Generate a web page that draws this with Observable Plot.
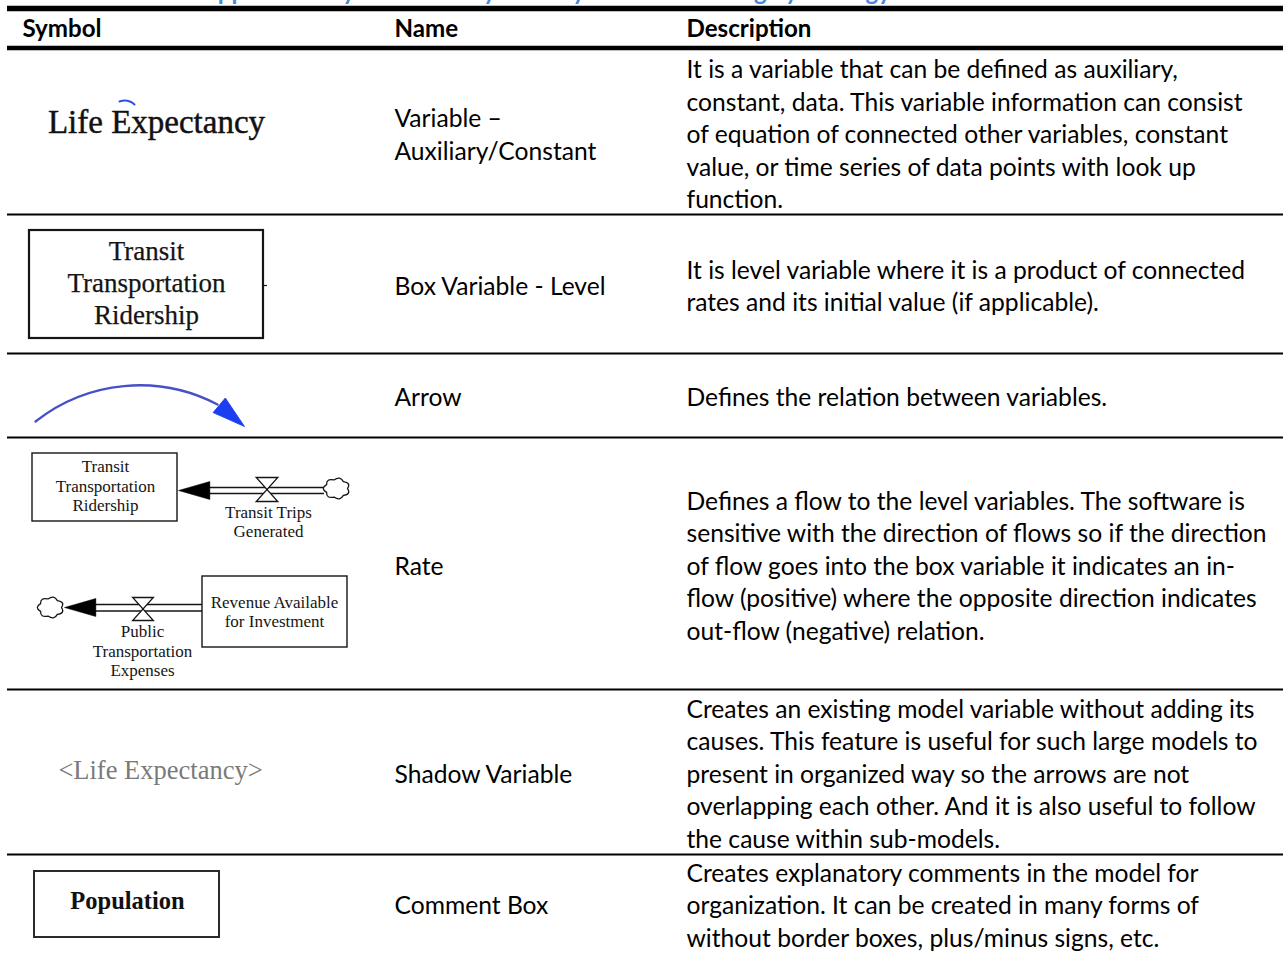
<!DOCTYPE html>
<html>
<head>
<meta charset="utf-8">
<script src="https://cdn.jsdelivr.net/npm/d3@7"></script>
<script src="https://cdn.jsdelivr.net/npm/@observablehq/plot@0.6"></script>
<style>
  html, body { margin: 0; padding: 0; background: #fff; }
  #chart svg { display: block; }
</style>
</head>
<body>
<div id="chart"></div>
<script>
// ---------------- data (table content) ----------------
const tableTitle = "Table 2: Vensim Application Symbols and System Dynamics Modeling Symbology";
const headers = ["Symbol", "Name", "Description"];
const names = [
  ["Variable –", "Auxiliary/Constant"],
  ["Box Variable - Level"],
  ["Arrow"],
  ["Rate"],
  ["Shadow Variable"],
  ["Comment Box"]
];
const descriptions = [
  ["It is a variable that can be defined as auxiliary,",
   "constant, data. This variable information can consist",
   "of equation of connected other variables, constant",
   "value, or time series of data points with look up",
   "function."],
  ["It is level variable where it is a product of connected",
   "rates and its initial value (if applicable)."],
  ["Defines the relation between variables."],
  ["Defines a flow to the level variables. The software is",
   "sensitive with the direction of flows so if the direction",
   "of flow goes into the box variable it indicates an in-",
   "flow (positive) where the opposite direction indicates",
   "out-flow (negative) relation."],
  ["Creates an existing model variable without adding its",
   "causes. This feature is useful for such large models to",
   "present in organized way so the arrows are not",
   "overlapping each other. And it is also useful to follow",
   "the cause within sub-models."],
  ["Creates explanatory comments in the model for",
   "organization. It can be created in many forms of",
   "without border boxes, plus/minus signs, etc."]
];
const auxiliaryLabel = "Life Expectancy";
const levelLabel = ["Transit", "Transportation", "Ridership"];
const inflowStockLabel = ["Transit", "Transportation", "Ridership"];
const inflowRateLabel = ["Transit Trips", "Generated"];
const outflowStockLabel = ["Revenue Available", "for Investment"];
const outflowRateLabel = ["Public", "Transportation", "Expenses"];
const shadowLabel = "<Life Expectancy>";
const commentLabel = "Population";

// ---------------- layout ----------------
const W = 1286, H = 953;
const tableLeft = 7, tableRight = 1283;
const colX = [22, 394, 686];
const headerY = 29;
const rowEdges = [48, 214, 353, 437, 689, 854];
const rowTextY = [132.5, 284, 395.5, 564, 772, 903.5];
const SANS = "Lato, 'Open Sans', sans-serif";
const SERIF = "'Liberation Serif', 'DejaVu Serif', serif";

const ctx2d = document.createElement("canvas").getContext("2d");
function measure(text, weight, family) {
  ctx2d.font = `${weight} 100px ${family}`;
  return ctx2d.measureText(text).width / 100;
}
const bodySize = 582 / measure(descriptions[3][1], "normal", SANS);
const headSize = 125 / measure(headers[2], "bold", SANS);
const bodyLH = 32.5 / bodySize;
const titleX = 219 - headSize * measure("Table 2: Vensim A", "bold", SANS);

// ---------------- custom symbols ----------------
const headSymbol = { draw(p, size) {
  const r = Math.sqrt(size / Math.PI);
  p.moveTo(0, 0); p.lineTo(-3.3 * r, -0.95 * r); p.lineTo(-3.3 * r, 0.95 * r); p.closePath();
}};
const valveSymbol = { draw(p, size) {
  const r = Math.sqrt(size / Math.PI), w = 0.9 * r;
  p.moveTo(-w, -r); p.lineTo(w, -r); p.lineTo(-w, r); p.lineTo(w, r); p.closePath();
}};
const cloudSymbol = { draw(p, size) {
  const r = Math.sqrt(size / Math.PI), rx = r, ry = 0.8 * r, k = 7;
  const pt = (a, f) => [f * rx * Math.cos(a), f * ry * Math.sin(a)];
  const s = pt(0, 1); p.moveTo(s[0], s[1]);
  for (let i = 0; i < k; i++) {
    const a0 = 2 * Math.PI * i / k, a1 = 2 * Math.PI * (i + 1) / k;
    const c = pt((a0 + a1) / 2, 1.5), e = pt(a1, 1);
    p.quadraticCurveTo(c[0], c[1], e[0], e[1]);
  }
  p.closePath();
}};

const rows = names.map((n, i) => ({ name: n.join("\n"), desc: descriptions[i].join("\n"), y: rowTextY[i] }));
const one = [0];
const ink = "#151515";

const chart = Plot.plot({
  width: W, height: H, margin: 0,
  x: { domain: [0, W], range: [0, W], axis: null },
  y: { domain: [0, H], range: [0, H], axis: null },
  style: { background: "white" },
  marks: [
    // caption (cut off at the top of the picture, as in the source)
    Plot.text([tableTitle], { x: titleX, y: -0.5, text: d => d, textAnchor: "start", lineAnchor: "bottom",
      fill: "#4a86dc", fontWeight: "bold", fontSize: headSize, fontFamily: SANS }),
    // table rules
    Plot.ruleY([8], { x1: tableLeft, x2: tableRight, stroke: "#000", strokeWidth: 5.5 }),
    Plot.ruleY([rowEdges[0] - 0.5], { x1: tableLeft, x2: tableRight, stroke: "#000", strokeWidth: 4.5 }),
    Plot.ruleY(rowEdges.slice(1), { x1: tableLeft, x2: tableRight, stroke: "#000", strokeWidth: 1.8 }),
    // header
    Plot.text(headers, { x: (d, i) => colX[i], y: headerY, text: d => d, textAnchor: "start",
      fontWeight: "bold", fontSize: headSize, fontFamily: SANS, fill: "#000" }),
    // names & descriptions
    Plot.text(rows, { x: colX[1], y: "y", text: "name", textAnchor: "start", lineHeight: bodyLH,
      fontSize: bodySize, fontFamily: SANS, fill: "#000" }),
    Plot.text(rows, { x: colX[2], y: "y", text: "desc", textAnchor: "start", lineHeight: bodyLH,
      fontSize: bodySize, fontFamily: SANS, fill: "#000" }),

    // --- symbol 1: auxiliary variable
    Plot.arrow(one, { x1: 119, y1: 101, x2: 134, y2: 104, bend: 30, headLength: 0, stroke: "#2f4fe0", strokeWidth: 2 }),
    Plot.text([auxiliaryLabel], { x: 156, y: 122, text: d => d, fontSize: 33, fontFamily: SERIF, fill: "#111",
      stroke: "#111", strokeWidth: 0.45 }),

    // --- symbol 2: level box
    Plot.rect(one, { x1: 29, x2: 263, y1: 230, y2: 338, fill: "white", stroke: ink, strokeWidth: 2.2 }),
    Plot.ruleY([285], { x1: 263, x2: 267, stroke: ink, strokeWidth: 1.2 }),
    Plot.text([levelLabel.join("\n")], { x: 146, y: 281, text: d => d, fontSize: 27, lineHeight: 32 / 27,
      fontFamily: SERIF, fill: ink, stroke: ink, strokeWidth: 0.25 }),

    // --- symbol 3: arrow
    Plot.arrow(one, { x1: 35, y1: 421, x2: 217, y2: 404, bend: 33, headLength: 0, stroke: "#4650c8", strokeWidth: 2.3 }),
    Plot.dot(one, { x: 244, y: 426, symbol: headSymbol, r: 10, rotate: 40, fill: "#1b3ef0", stroke: "#1b3ef0", strokeWidth: 0.8 }),

    // --- symbol 4: rates
    // inflow
    Plot.rect(one, { x1: 32, x2: 177, y1: 453, y2: 521, fill: "white", stroke: ink, strokeWidth: 1.4 }),
    Plot.text([inflowStockLabel.join("\n")], { x: 105, y: 485, text: d => d, fontSize: 17, lineHeight: 19.5 / 17,
      fontFamily: SERIF, fill: ink }),
    Plot.ruleY([487, 493], { x1: 208, x2: 324, stroke: ink, strokeWidth: 1.3 }),
    Plot.dot(one, { x: 178, y: 490, symbol: headSymbol, r: 9.5, rotate: 180, fill: "#000", stroke: "#000", strokeWidth: 0.5 }),
    Plot.dot(one, { x: 266.5, y: 489, symbol: valveSymbol, r: 12, fill: "white", stroke: ink, strokeWidth: 1.3 }),
    Plot.dot(one, { x: 336, y: 488, symbol: cloudSymbol, r: 11, fill: "white", stroke: ink, strokeWidth: 1.3 }),
    Plot.text([inflowRateLabel.join("\n")], { x: 268, y: 521, text: d => d, fontSize: 17, lineHeight: 19 / 17,
      fontFamily: SERIF, fill: ink }),
    // outflow
    Plot.rect(one, { x1: 202, x2: 347, y1: 576, y2: 647, fill: "white", stroke: ink, strokeWidth: 1.4 }),
    Plot.text([outflowStockLabel.join("\n")], { x: 274, y: 611, text: d => d, fontSize: 17, lineHeight: 19.5 / 17,
      fontFamily: SERIF, fill: ink }),
    Plot.ruleY([604, 610.5], { x1: 95, x2: 202, stroke: ink, strokeWidth: 1.3 }),
    Plot.dot(one, { x: 64, y: 607, symbol: headSymbol, r: 9.5, rotate: 180, fill: "#000", stroke: "#000", strokeWidth: 0.5 }),
    Plot.dot(one, { x: 142.5, y: 608.5, symbol: valveSymbol, r: 11.5, fill: "white", stroke: ink, strokeWidth: 1.3 }),
    Plot.dot(one, { x: 50, y: 607, symbol: cloudSymbol, r: 11, fill: "white", stroke: ink, strokeWidth: 1.3 }),
    Plot.text([outflowRateLabel.join("\n")], { x: 142, y: 650, text: d => d, fontSize: 17, lineHeight: 19.5 / 17,
      fontFamily: SERIF, fill: ink }),

    // --- symbol 5: shadow variable
    Plot.text([shadowLabel], { x: 160, y: 770, text: d => d, fontSize: 26.5, fontFamily: SERIF, fill: "#7a7a7a" }),

    // --- symbol 6: comment box
    Plot.rect(one, { x1: 34, x2: 219, y1: 871, y2: 937, fill: "white", stroke: "#2a2a2a", strokeWidth: 2 }),
    Plot.text([commentLabel], { x: 127, y: 901, text: d => d, fontSize: 24.5, fontWeight: "bold",
      fontFamily: SERIF, fill: "#111" })
  ]
});
document.getElementById("chart").appendChild(chart);
</script>
</body>
</html>
